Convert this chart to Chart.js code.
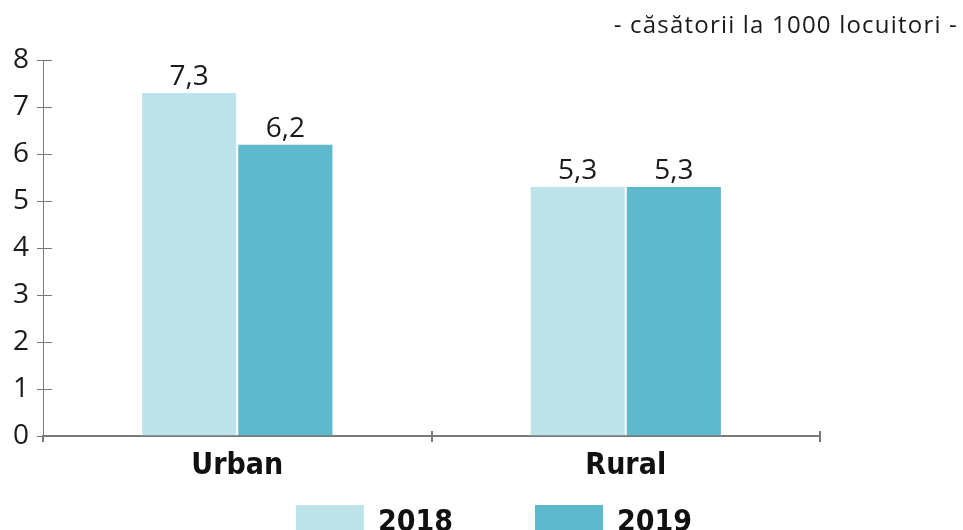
<!DOCTYPE html>
<html>
<head>
<meta charset="utf-8">
<script src="https://cdn.jsdelivr.net/npm/chart.js@4"></script>
<style>
  html, body { margin: 0; padding: 0; background: #fff; }
  #wrap { width: 963px; height: 530px; overflow: hidden; position: relative; }
</style>
</head>
<body>
<div id="wrap"><canvas id="chart" width="963" height="560"></canvas></div>
<script>
const categories = ["Urban", "Rural"];
const years = ["2018", "2019"];
const values2018 = [7.3, 5.3];
const values2019 = [6.2, 5.3];
const yTicks = [0, 1, 2, 3, 4, 5, 6, 7, 8];
const unitLabel = "- căsătorii la 1000 locuitori -";

const LIGHT = "rgb(191, 227, 234)";
const DARK = "rgb(94, 185, 204)";
const AXIS = "#7a7a7a";
const NARROW = "'Liberation Sans Narrow', 'DejaVu Sans Condensed', sans-serif";
const SANS = "'Open Sans', 'Noto Sans', sans-serif";

const fmt = v => v.toFixed(1).replace(".", ",");

// short tick marks on the inner side of both axes
const innerTicks = {
    id: "innerTicks",
    afterDraw(chart) {
        const { ctx, chartArea: { left, bottom }, scales: { x, y } } = chart;
        ctx.save();
        ctx.strokeStyle = AXIS;
        ctx.lineWidth = 1;
        yTicks.forEach(t => {
            if (t === 0) return;
            const py = Math.round(y.getPixelForValue(t)) + 0.5;
            ctx.beginPath();
            ctx.moveTo(left, py);
            ctx.lineTo(left + 9, py);
            ctx.stroke();
        });
        const half = (x.getPixelForValue(1) - x.getPixelForValue(0)) / 2;
        ctx.lineWidth = 2;
        categories.forEach((c, i) => {
            const px = Math.round(x.getPixelForValue(i) + half);
            ctx.beginPath();
            ctx.moveTo(px, bottom - 5);
            ctx.lineTo(px, bottom);
            ctx.stroke();
        });
        ctx.restore();
    }
};

const valueLabels = {
    id: "valueLabels",
    afterDatasetsDraw(chart) {
        const { ctx } = chart;
        ctx.save();
        ctx.font = "28px " + SANS;
        ctx.fillStyle = "#1a1a1a";
        ctx.textAlign = "center";
        ctx.textBaseline = "alphabetic";
        chart.data.datasets.forEach((ds, di) => {
            chart.getDatasetMeta(di).data.forEach((bar, i) => {
                ctx.fillText(fmt(ds.data[i]), bar.x, bar.y - 8);
            });
        });
        ctx.restore();
    }
};

const sideText = {
    id: "sideText",
    afterDraw(chart) {
        const { ctx } = chart;
        ctx.save();
        // unit note, top right
        ctx.font = "24px " + SANS;
        ctx.letterSpacing = "1.2px";
        ctx.fillStyle = "#1a1a1a";
        ctx.textAlign = "right";
        ctx.textBaseline = "alphabetic";
        ctx.fillText(unitLabel, 958, 33);
        ctx.letterSpacing = "0px";

        // legend, bottom
        ctx.font = "bold 30px " + NARROW;
        ctx.textAlign = "left";
        const boxW = 68, boxH = 40, gap = 14, spacing = 82;
        const items = chart.data.datasets.map(ds => ({
            label: ds.label, color: ds.backgroundColor, w: ctx.measureText(ds.label).width
        }));
        const total = items.reduce((s, it) => s + boxW + gap + it.w, 0) + spacing * (items.length - 1);
        let cx = 494 - total / 2;
        items.forEach(it => {
            ctx.fillStyle = it.color;
            ctx.fillRect(cx, 505, boxW, boxH);
            ctx.fillStyle = "#111";
            ctx.fillText(it.label, cx + boxW + gap, 531);
            cx += boxW + gap + it.w + spacing;
        });
        ctx.restore();
    }
};

new Chart(document.getElementById("chart"), {
    type: "bar",
    data: {
        labels: categories,
        datasets: [
            {
                label: years[0],
                data: values2018,
                backgroundColor: LIGHT,
                borderColor: "#fff",
                borderWidth: { left: 1, right: 1, top: 0, bottom: 0 },
                borderSkipped: false
            },
            {
                label: years[1],
                data: values2019,
                backgroundColor: DARK,
                borderColor: "#fff",
                borderWidth: { left: 1, right: 1, top: 0, bottom: 0 },
                borderSkipped: false
            }
        ]
    },
    options: {
        responsive: false,
        animation: false,
        devicePixelRatio: 1,
        categoryPercentage: 0.495,
        barPercentage: 1,
        layout: { padding: { top: 60, right: 143, left: 0, bottom: 0 } },
        scales: {
            y: {
                min: 0,
                max: 8,
                afterBuildTicks(scale) {
                    scale.ticks = yTicks.map(v => ({ value: v }));
                },
                afterFit(scale) { scale.width = 43; },
                ticks: {
                    font: { family: SANS, size: 28 },
                    color: "#1a1a1a",
                    padding: 8
                },
                grid: { drawOnChartArea: false, tickLength: 6, color: AXIS },
                border: { color: AXIS, width: 1 }
            },
            x: {
                afterFit(scale) { scale.height = 124; },
                ticks: {
                    font: { family: NARROW, size: 30, weight: "bold" },
                    color: "#111",
                    padding: 6
                },
                grid: { drawOnChartArea: false, offset: true, tickLength: 6, color: AXIS, lineWidth: 2 },
                border: { color: AXIS, width: 2 }
            }
        },
        plugins: {
            legend: { display: false },
            tooltip: { enabled: false }
        }
    },
    plugins: [innerTicks, valueLabels, sideText]
});
</script>
</body>
</html>
